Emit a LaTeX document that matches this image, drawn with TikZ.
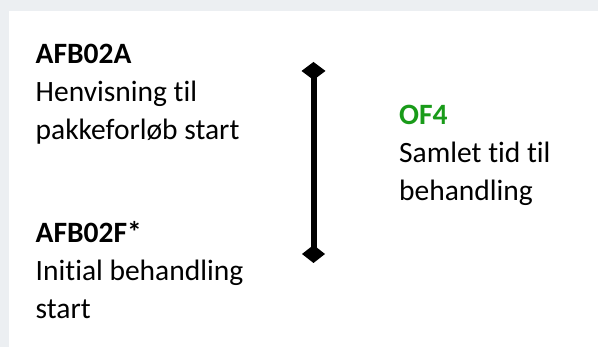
\documentclass[tikz,border=0pt]{standalone}
\usepackage{fontspec}
\setmainfont{Carlito}[Ligatures=NoCommon]
\usetikzlibrary{arrows.meta}
\definecolor{panelgray}{RGB}{236,239,242}
\definecolor{ofgreen}{RGB}{25,155,25}

\begin{document}
\begin{tikzpicture}[x=1pt, y=-1pt,
    txt/.style={anchor=base west, inner sep=0pt, align=left, font=\fontsize{29.5}{38}\selectfont},
    durline/.style={line width=6pt, {Diamond[length=18pt,width=24pt]}-{Diamond[length=18pt,width=23pt]}}]
  \fill[panelgray] (0,0) rectangle (598,347);
  \fill[white] (8.7,11) rectangle (598,347);
  \useasboundingbox (0,0) rectangle (598,347);
  % anchor sits on the last line of each block
  \node[txt] (afba) at (35.5,140) {\textbf{AFB02A}\\Henvisning til\\pakkeforløb start};
  \node[txt] (afbf) at (35.5,319) {\textbf{AFB02F*}\\Initial behandling\\start};
  \node[txt] (of4) at (399,201) {\textcolor{ofgreen}{\textbf{OF4}}\\Samlet tid til\\behandling};
  \coordinate (from) at (313.5,62);
  \coordinate (to) at (313.5,263);
  \draw[durline] (from) -- (to);
\end{tikzpicture}
\end{document}
